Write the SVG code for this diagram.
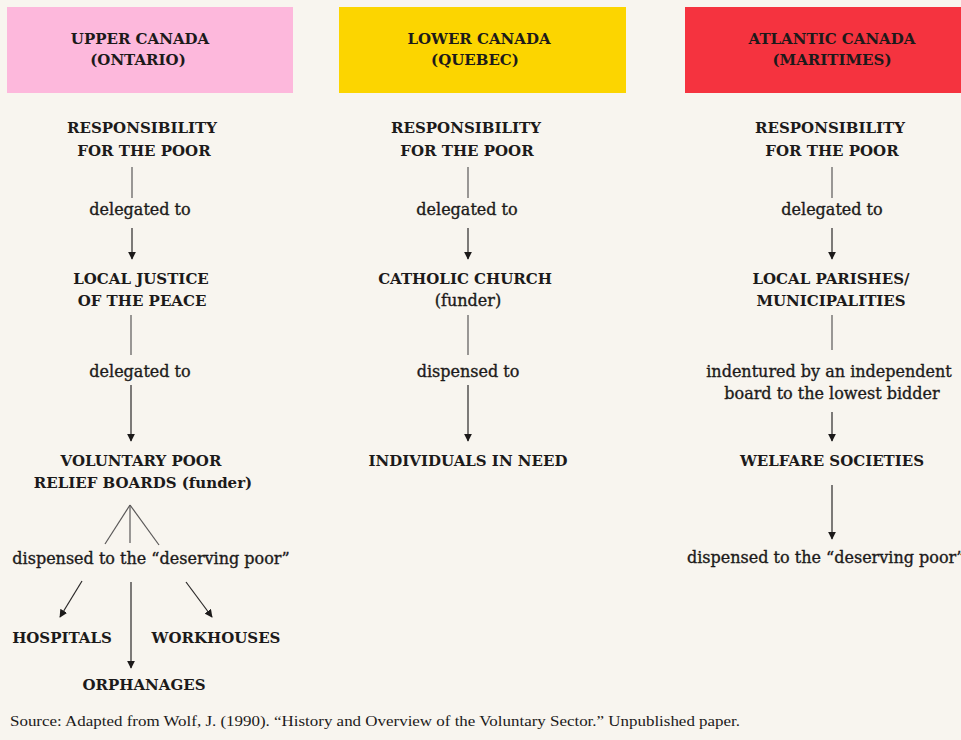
<svg xmlns="http://www.w3.org/2000/svg" width="961" height="740" viewBox="0 0 961 740">
<style>
.cap{font-family:"DejaVu Serif","Liberation Serif",serif;font-weight:bold;font-size:15px;fill:#1c1a1a;text-anchor:middle}
.lab{font-family:"DejaVu Serif","Liberation Serif",serif;font-size:16px;fill:#1c1a1a;stroke:#1c1a1a;stroke-width:0.35;text-anchor:middle}
.src{font-family:"Liberation Serif","DejaVu Serif",serif;font-size:14.5px;fill:#1c1a1a}
.ln{stroke:#5a5858;stroke-width:1.2;fill:none}
.ar{stroke:#2a2828;stroke-width:1.2;fill:none;marker-end:url(#ah)}
</style>
<defs>
<marker id="ah" viewBox="0 0 10 10" refX="9" refY="5" markerWidth="8" markerHeight="8" markerUnits="userSpaceOnUse" orient="auto">
<path d="M0,0 L10,5 L0,10 z" fill="#1c1a1a"/>
</marker>
</defs>
<rect width="961" height="740" fill="#f8f5ef"/>

<g id="hdr-upper">
<rect x="7" y="7" width="286" height="86" fill="#fdb8dc"/>
<text class="cap" x="140" y="44">UPPER CANADA</text>
<text class="cap" x="138" y="65">(ONTARIO)</text>
</g>
<g id="hdr-lower">
<rect x="339" y="7" width="287" height="86" fill="#fcd500"/>
<text class="cap" x="479" y="44">LOWER CANADA</text>
<text class="cap" x="475" y="65">(QUEBEC)</text>
</g>
<g id="hdr-atlantic">
<rect x="685" y="7" width="276" height="86" fill="#f5333f"/>
<text class="cap" x="832" y="44">ATLANTIC CANADA</text>
<text class="cap" x="832" y="65">(MARITIMES)</text>
</g>

<!-- Upper Canada column -->
<g id="u-resp">
<text class="cap" x="142" y="133">RESPONSIBILITY</text>
<text class="cap" x="144" y="156">FOR THE POOR</text>
</g>
<g id="u-del1"><text class="lab" x="140" y="215">delegated to</text></g>
<g id="u-jp">
<text class="cap" x="141" y="284">LOCAL JUSTICE</text>
<text class="cap" x="142" y="306">OF THE PEACE</text>
</g>
<g id="u-del2"><text class="lab" x="140" y="377">delegated to</text></g>
<g id="u-boards">
<text class="cap" x="141" y="466">VOLUNTARY POOR</text>
<text class="cap" x="143" y="488">RELIEF BOARDS (funder)</text>
</g>
<g id="u-disp"><text class="lab" x="151" y="564">dispensed to the “deserving poor”</text></g>
<g id="u-hosp"><text class="cap" x="62" y="643">HOSPITALS</text></g>
<g id="u-work"><text class="cap" x="216" y="643">WORKHOUSES</text></g>
<g id="u-orph"><text class="cap" x="144" y="690">ORPHANAGES</text></g>

<!-- Lower Canada column -->
<g id="l-resp">
<text class="cap" x="466" y="133">RESPONSIBILITY</text>
<text class="cap" x="467" y="156">FOR THE POOR</text>
</g>
<g id="l-del"><text class="lab" x="467" y="215">delegated to</text></g>
<g id="l-church">
<text class="cap" x="465" y="284">CATHOLIC CHURCH</text>
<text class="lab" x="468" y="306">(funder)</text>
</g>
<g id="l-disp"><text class="lab" x="468" y="377">dispensed to</text></g>
<g id="l-ind"><text class="cap" x="468" y="466">INDIVIDUALS IN NEED</text></g>

<!-- Atlantic Canada column -->
<g id="a-resp">
<text class="cap" x="830" y="133">RESPONSIBILITY</text>
<text class="cap" x="832" y="156">FOR THE POOR</text>
</g>
<g id="a-del"><text class="lab" x="832" y="215">delegated to</text></g>
<g id="a-parish">
<text class="cap" x="831" y="284">LOCAL PARISHES/</text>
<text class="cap" x="831" y="306">MUNICIPALITIES</text>
</g>
<g id="a-ind">
<text class="lab" x="829" y="377">indentured by an independent</text>
<text class="lab" x="832" y="399">board to the lowest bidder</text>
</g>
<g id="a-welfare"><text class="cap" x="832" y="466">WELFARE SOCIETIES</text></g>
<g id="a-disp"><text class="lab" x="687" y="563" style="text-anchor:start">dispensed to the “deserving poor”</text></g>

<g id="connectors">
<line class="ln" x1="132" y1="167" x2="132" y2="198"/>
<line class="ar" x1="132" y1="228" x2="132" y2="259"/>
<line class="ln" x1="131" y1="315" x2="131" y2="355"/>
<line class="ar" x1="131" y1="385" x2="131" y2="441"/>
<line class="ln" x1="130" y1="505" x2="105" y2="544"/>
<line class="ln" x1="130" y1="505" x2="130" y2="543"/>
<line class="ln" x1="130" y1="505" x2="159" y2="545"/>
<line class="ar" x1="82" y1="581" x2="60" y2="617"/>
<line class="ar" x1="131" y1="582" x2="131" y2="668"/>
<line class="ar" x1="186" y1="582" x2="212" y2="617"/>

<line class="ln" x1="468" y1="167" x2="468" y2="198"/>
<line class="ar" x1="468" y1="228" x2="468" y2="259"/>
<line class="ln" x1="468" y1="315" x2="468" y2="355"/>
<line class="ar" x1="468" y1="385" x2="468" y2="441"/>

<line class="ln" x1="832" y1="167" x2="832" y2="198"/>
<line class="ar" x1="832" y1="228" x2="832" y2="259"/>
<line class="ln" x1="832" y1="315" x2="832" y2="350"/>
<line class="ar" x1="832" y1="412" x2="832" y2="441"/>
<line class="ar" x1="832" y1="485" x2="832" y2="539"/>
</g>

<text class="src" x="10" y="726" textLength="730" lengthAdjust="spacingAndGlyphs">Source: Adapted from Wolf, J. (1990). “History and Overview of the Voluntary Sector.” Unpublished paper.</text>
</svg>
